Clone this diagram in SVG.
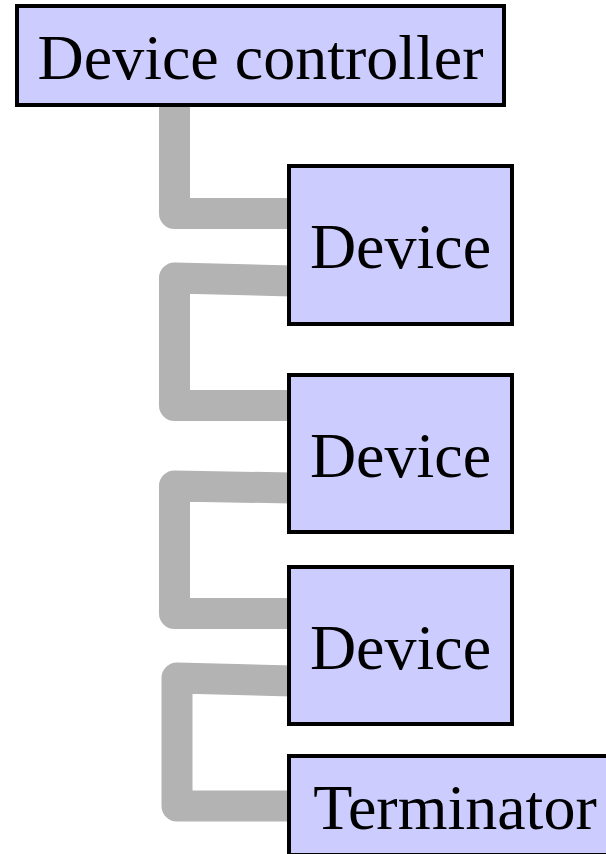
<svg xmlns="http://www.w3.org/2000/svg" width="606" height="854" viewBox="0 0 606 854">
<style>
.conn{fill:none;stroke:#b3b3b3;stroke-width:31;stroke-linejoin:round;stroke-linecap:butt}
.box{fill:#ccccff;stroke:#000;stroke-width:4}
.lbl{font-family:"Liberation Serif","Times New Roman",serif;font-size:64px;fill:#000;text-anchor:middle}
</style>
<rect width="606" height="854" fill="#fff"/>
<g id="connectors">
<path class="conn" d="M174.5,100 V213.5 H292"/>
<path class="conn" d="M292,281 L174.5,278 V405.5 H292"/>
<path class="conn" d="M292,488 L174.5,486 V613.5 H292"/>
<path class="conn" d="M292,681 L177,678 V806 H292"/>
</g>
<g id="controller">
<rect class="box" x="17" y="6" width="487" height="99"/>
<text class="lbl" x="260.5" y="79">Device controller</text>
</g>
<g id="device1">
<rect class="box" x="289" y="166" width="223" height="158"/>
<text class="lbl" x="400.5" y="268">Device</text>
</g>
<g id="device2">
<rect class="box" x="289" y="375" width="223" height="157"/>
<text class="lbl" x="400.5" y="476.5">Device</text>
</g>
<g id="device3">
<rect class="box" x="289" y="567" width="223" height="157"/>
<text class="lbl" x="400.5" y="668.5">Device</text>
</g>
<g id="terminator">
<rect class="box" x="289" y="756" width="332" height="99"/>
<text class="lbl" x="455" y="829">Terminator</text>
</g>
</svg>
